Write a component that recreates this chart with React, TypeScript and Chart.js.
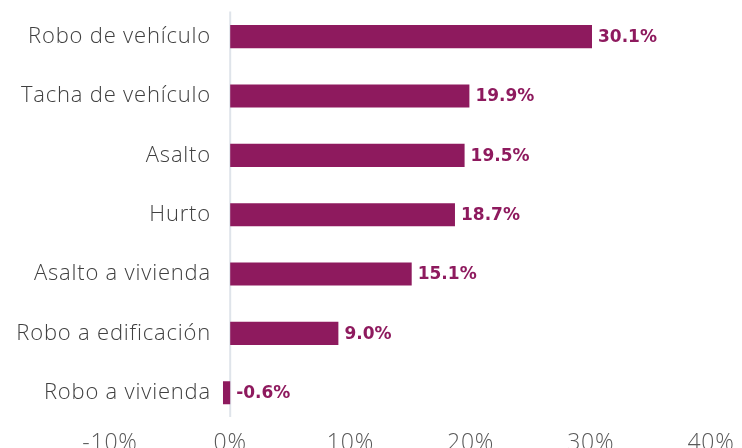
import { useEffect, useRef } from "react";
import { Chart, registerables } from "chart.js";

Chart.register(...registerables);

const categories = [
  "Robo de vehículo",
  "Tacha de vehículo",
  "Asalto",
  "Hurto",
  "Asalto a vivienda",
  "Robo a edificación",
  "Robo a vivienda",
];
const values = [30.1, 19.9, 19.5, 18.7, 15.1, 9.0, -0.6];
const xMin = -10;
const xMax = 40;
const xStep = 10;

const BAR_COLOR = "#8e1a5e";

const spacingPlugin = {
  id: "spacing",
  beforeDraw(chart: any) {
    (chart.ctx as any).letterSpacing = "0.8px";
  },
};

const zeroLinePlugin = {
  id: "zeroLine",
  beforeDatasetsDraw(chart: any) {
    const { ctx, chartArea, scales } = chart;
    const x = scales.x.getPixelForValue(0);
    ctx.save();
    ctx.strokeStyle = "#dfe4ea";
    ctx.lineWidth = 2;
    ctx.beginPath();
    ctx.moveTo(x, chartArea.top + 4.5);
    ctx.lineTo(x, chartArea.bottom - 5.5);
    ctx.stroke();
    ctx.restore();
  },
};

const valueLabelPlugin = {
  id: "valueLabels",
  afterDatasetsDraw(chart: any) {
    const { ctx } = chart;
    const meta = chart.getDatasetMeta(0);
    ctx.save();
    (ctx as any).letterSpacing = "0px";
    ctx.font = "bold 17px 'DejaVu Sans'";
    ctx.fillStyle = BAR_COLOR;
    ctx.textAlign = "left";
    ctx.textBaseline = "middle";
    meta.data.forEach((el: any, i: number) => {
      const v = values[i];
      const xEnd = Math.max(el.x, el.base);
      ctx.fillText(v.toFixed(1) + "%", xEnd + 6, el.y + 1);
    });
    ctx.restore();
  },
};

function BarChart() {
  const ref = useRef<HTMLCanvasElement | null>(null);
  useEffect(() => {
    if (!ref.current) return;
    const chart = new Chart(ref.current, {
      type: "bar",
      data: {
        labels: categories,
        datasets: [
          {
            data: values,
            backgroundColor: BAR_COLOR,
            borderWidth: 0,
            barPercentage: 0.39,
            categoryPercentage: 1,
          },
        ],
      },
      options: {
        indexAxis: "y",
        responsive: false,
        animation: false,
        devicePixelRatio: 1,
        layout: { padding: { left: 110, right: 31, top: 7, bottom: 6 } },
        plugins: {
          legend: { display: false },
          tooltip: { enabled: false },
        },
        scales: {
          x: {
            type: "linear",
            min: xMin,
            max: xMax,
            grid: { display: false, drawTicks: false },
            border: { display: false },
            ticks: {
              stepSize: xStep,
              padding: 7,
              color: "#595959",
              font: { family: "'Open Sans'", size: 23, weight: 300 },
              callback: (v: any) => v + "%",
            },
          },
          y: {
            type: "category",
            position: { x: -1.6 } as any,
            grid: { display: false, drawTicks: false },
            border: { display: false },
            ticks: {
              padding: 0,
              color: "#404040",
              font: { family: "'Open Sans'", size: 22, weight: 300, lineHeight: 0.5 },
            },
          },
        },
      },
      plugins: [spacingPlugin, zeroLinePlugin, valueLabelPlugin],
    });
    return () => chart.destroy();
  }, []);
  return <canvas ref={ref} width={742} height={470} style={{ display: "block" }} />;
}

export default function App() {
  return (
    <div
      style={{
        position: "absolute",
        left: 0,
        top: 0,
        width: 742,
        height: 448,
        overflow: "hidden",
        background: "#ffffff",
      }}
    >
      <BarChart />
    </div>
  );
}
